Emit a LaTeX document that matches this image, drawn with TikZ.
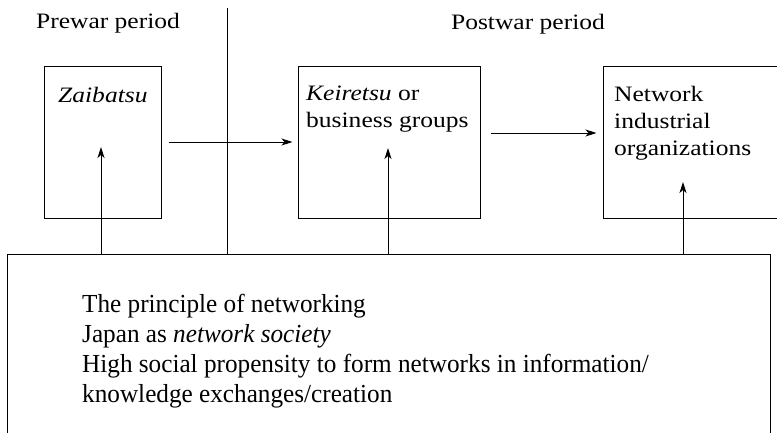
\documentclass[tikz,border=0pt]{standalone}
\usepackage{fontspec}
\setmainfont{Liberation Serif}
\newfontfamily\boxfont[FakeStretch=1.16]{Liberation Serif}
\newfontfamily\basefont[FakeStretch=0.97]{Liberation Serif}
\usetikzlibrary{arrows.meta}

\tikzset{
  stage/.style={draw, line width=1pt, inner sep=0pt},
  label/.style={inner sep=0pt, align=left, font=\boxfont\fontsize{22}{27}\selectfont},
  flow/.style={line width=1pt, -{Stealth[length=11pt,width=7pt,inset=3pt]}}
}

\begin{document}
\begin{tikzpicture}[x=1pt,y=-1pt]
\useasboundingbox (0,0) rectangle (777,432);
\clip (0,0) rectangle (777,432);

% the three stages
\node[stage, minimum width=117pt, minimum height=152pt] (zai) at (102.5,142) {};
\node[stage, minimum width=182pt, minimum height=152pt] (kei) at (389,142) {};
\node[stage, minimum width=197pt, minimum height=152pt] (net) at (701.5,142) {};
% common base underneath
\node[stage, minimum width=763pt, minimum height=206pt] (base) at (388.5,357) {};

% period divider
\coordinate (divtop) at (227,8);
\draw[line width=1pt] (divtop) -- (divtop |- base.north);

\node[label, anchor=base] (prewar) at (108,28) {Prewar period};
\node[label, anchor=base] (postwar) at (528,29) {Postwar period};

% base anchor sits on the last line
\node[label, anchor=base west] (zaitxt) at (58,102) {\textit{Zaibatsu}};
\node[label, anchor=base west] (keitxt) at (306,127) {\textit{Keiretsu} or\\business groups};
\node[label, anchor=base west] (nettxt) at (614,155) {Network\\industrial\\organizations};

\node[inner sep=0pt, align=left, anchor=base west,
      font=\basefont\fontsize{26}{29.7}\selectfont] (basetxt) at (82,402)
  {The principle of networking\\
   Japan as \textit{network society}\\
   High social propensity to form networks in information/\\
   knowledge exchanges/creation};

% sideways flow
\draw[flow, shorten <=7pt, shorten >=5pt] (zai.east) -- (kei.west);
\draw[flow, shorten <=10pt, shorten >=6pt] ([yshift=9pt]kei.east) -- ([yshift=9pt]net.west);

% support from the base
\coordinate (zaitip) at (101,147);
\coordinate (keitip) at (388,148);
\coordinate (nettip) at (683,182);
\draw[flow] (zaitip |- base.north) -- (zaitip);
\draw[flow] (keitip |- base.north) -- (keitip);
\draw[flow] (nettip |- base.north) -- (nettip);
\end{tikzpicture}
\end{document}
